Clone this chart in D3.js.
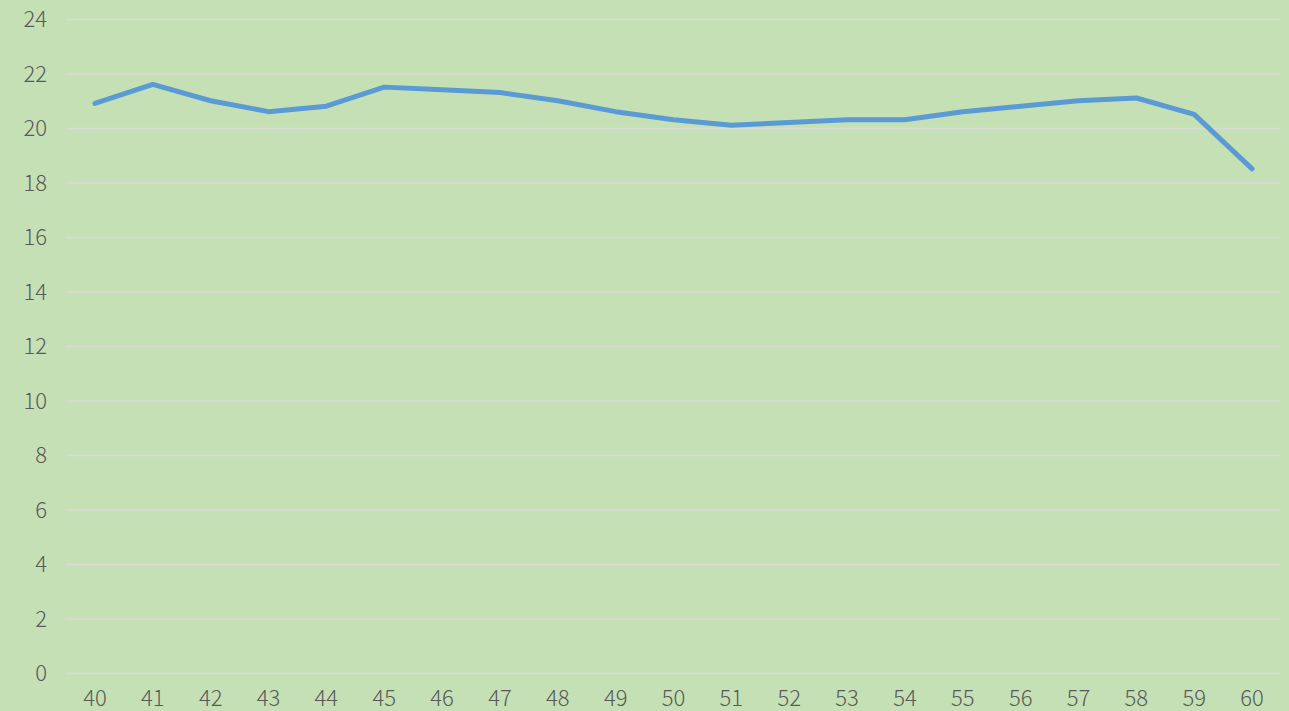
<!DOCTYPE html>
<html lang="en">
<head>
    <meta charset="UTF-8">
    <title>Line Chart</title>
    <script src="https://d3js.org/d3.v7.min.js"></script>
    <style>
        body { margin: 0; background: #c5e0b4; }
        svg { display: block; }
        .grid line { stroke: #d9d9d9; stroke-width: 1.5px; }
        .tick text { font-family: "Noto Sans CJK SC", "Noto Sans", sans-serif; font-size: 22px; font-weight: 300; fill: #595959; }
    </style>
</head>
<body>
<svg id="chart"></svg>
<script>
    const categories = ["40","41","42","43","44","45","46","47","48","49","50",
                        "51","52","53","54","55","56","57","58","59","60"];
    const values = [20.9, 21.6, 21.0, 20.6, 20.8, 21.5, 21.4, 21.3, 21.0, 20.6, 20.3,
                    20.1, 20.2, 20.3, 20.3, 20.6, 20.8, 21.0, 21.1, 20.5, 18.5];
    const yTicks = [0, 2, 4, 6, 8, 10, 12, 14, 16, 18, 20, 22, 24];

    const width = 1289, height = 711;
    const margin = {top: 19, right: 8, bottom: 38, left: 66};

    const svg = d3.select("#chart")
        .attr("width", width)
        .attr("height", height);

    svg.append("rect")
        .attr("width", width)
        .attr("height", height)
        .attr("fill", "#c5e0b4");

    const x = d3.scaleBand()
        .domain(categories)
        .range([margin.left, width - margin.right]);

    const y = d3.scaleLinear()
        .domain([0, 24])
        .range([height - margin.bottom, margin.top]);

    // horizontal gridlines + y labels
    const yAxis = svg.append("g")
        .attr("class", "grid")
        .attr("transform", `translate(${margin.left},0)`)
        .call(d3.axisLeft(y).tickValues(yTicks)
            .tickSize(-(width - margin.left - margin.right))
            .tickPadding(19));
    yAxis.select(".domain").remove();
    yAxis.selectAll(".tick text").attr("dy", "0.35em");

    // x labels
    const xAxis = svg.append("g")
        .attr("transform", `translate(0,${height - margin.bottom})`)
        .call(d3.axisBottom(x).tickSize(0).tickPadding(17));
    xAxis.select(".domain").remove();

    const line = d3.line()
        .x((d, i) => x(categories[i]) + x.bandwidth() / 2)
        .y(d => y(d));

    svg.append("path")
        .datum(values)
        .attr("fill", "none")
        .attr("stroke", "#5b9bd5")
        .attr("stroke-width", 5)
        .attr("stroke-linejoin", "round")
        .attr("stroke-linecap", "round")
        .attr("d", line);
</script>
</body>
</html>
